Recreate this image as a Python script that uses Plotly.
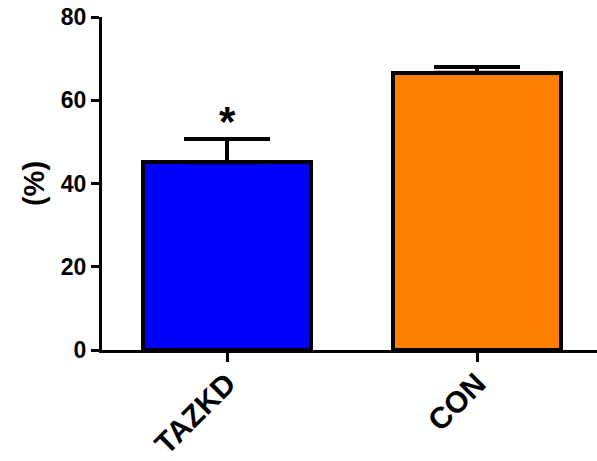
import plotly.graph_objects as go

categories = ["TAZKD", "CON"]
means = [45.1, 66.6]
sem = [5.6, 1.4]
colors = ["#0000FF", "#FF8000"]
y_ticks = [0, 20, 40, 60, 80]
star_label = "*"

FONT = "Liberation Sans, Arial, sans-serif"

fig = go.Figure()
fig.add_trace(go.Bar(
    x=[0, 1],
    y=means,
    width=0.672,
    marker=dict(color=colors, line=dict(color="black", width=4)),
    error_y=dict(type="data", array=sem, arrayminus=[0, 0], symmetric=False,
                 color="black", thickness=4, width=43),
    showlegend=False,
))

fig.add_annotation(x=0, y=61, text=star_label, showarrow=False,
                   yanchor="top", xanchor="center",
                   font=dict(family=FONT, size=42, color="black", weight="bold"))

fig.update_layout(
    width=597, height=461,
    margin=dict(l=102, r=0, t=17, b=111),
    plot_bgcolor="white", paper_bgcolor="white",
    font=dict(family=FONT, color="black"),
    bargap=0,
)
fig.update_xaxes(
    range=[-0.5, 1.48],
    tickmode="array", tickvals=[0, 1], ticktext=categories,
    tickangle=-45, automargin=False, ticklabelstandoff=-8,
    ticks="outside", ticklen=9, tickwidth=2.5, tickcolor="black",
    showline=True, linecolor="black", linewidth=3,
    showgrid=False, zeroline=False,
    tickfont=dict(family=FONT, size=30, color="black", weight="bold"),
)
fig.update_yaxes(
    range=[0, 80], automargin=False,
    tickmode="array", tickvals=y_ticks,
    ticks="outside", ticklen=8, tickwidth=3, tickcolor="black",
    showline=True, linecolor="black", linewidth=3,
    showgrid=False, zeroline=False,
    tickfont=dict(family=FONT, size=23, color="black", weight="bold"),
    title=dict(text="(%)", font=dict(family=FONT, size=29, color="black", weight="bold"), standoff=8),
)

fig.write_html("out.html")
